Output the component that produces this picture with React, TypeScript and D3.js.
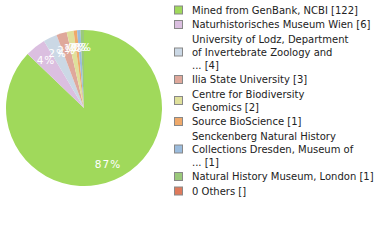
import React from "react";
import * as d3 from "d3";

const labels = [
  ["Mined from GenBank, NCBI [122]"],
  ["Naturhistorisches Museum Wien [6]"],
  ["University of Lodz, Department", "of Invertebrate Zoology and", "... [4]"],
  ["Ilia State University [3]"],
  ["Centre for Biodiversity", "Genomics [2]"],
  ["Source BioScience [1]"],
  ["Senckenberg Natural History", "Collections Dresden, Museum of", "... [1]"],
  ["Natural History Museum, London [1]"],
  ["0 Others []"],
];
const values = [122, 6, 4, 3, 2, 1, 1, 1, 0];
const colors = ["#a0d95b", "#dbbfe0", "#cbd8e5", "#dfa89b", "#dfe09b", "#efa96a", "#9bbcdd", "#9bc97b", "#df7a5b"];

export default function App() {
  const cx = 84, cy = 108, R = 78, LR = 61;
  const total = d3.sum(values);
  const pie = d3.pie<number>().sort(null).value((d) => d)(values);
  const arc = d3.arc<any>().innerRadius(0).outerRadius(R);
  const labelArc = d3.arc<any>().innerRadius(LR).outerRadius(LR);
  const lineH = 13;
  const gap = 1.5;
  let y = 10;
  const rows: { y0: number; lines: string[]; color: string; sq: number }[] = [];
  labels.forEach((l, i) => {
    rows.push({ y0: y, lines: l, color: colors[i], sq: y + ((l.length - 1) * lineH) / 2 });
    y += l.length * lineH + gap;
  });
  return (
    <svg width={380} height={240} style={{ position: "absolute", left: 0, top: 0 }} fontFamily="DejaVu Sans">
      <g transform={`translate(${cx},${cy})`}>
        {pie.map((p, i) => (
          <path key={i} d={arc(p) || ""} fill={colors[i]} />
        ))}
        {pie.map((p, i) => {
          if (p.value === 0) return null;
          const [x, yy] = labelArc.centroid(p);
          return (
            <text key={i} x={x} y={yy} fill="#fff" fontSize={10.5} textAnchor="middle" dominantBaseline="central" letterSpacing={1}>
              {Math.floor((p.value / total) * 100)}%
            </text>
          );
        })}
      </g>
      {rows.map((r, i) => (
        <g key={i}>
          <rect x={174.5} y={r.sq - 4} width={8} height={8} fill={colors[i]} stroke="#888" strokeWidth={1} />
          {r.lines.map((t, j) => (
            <text key={j} x={192} y={r.y0 + j * lineH} fontSize={10} fill="#222" dominantBaseline="central">
              {t}
            </text>
          ))}
        </g>
      ))}
    </svg>
  );
}
